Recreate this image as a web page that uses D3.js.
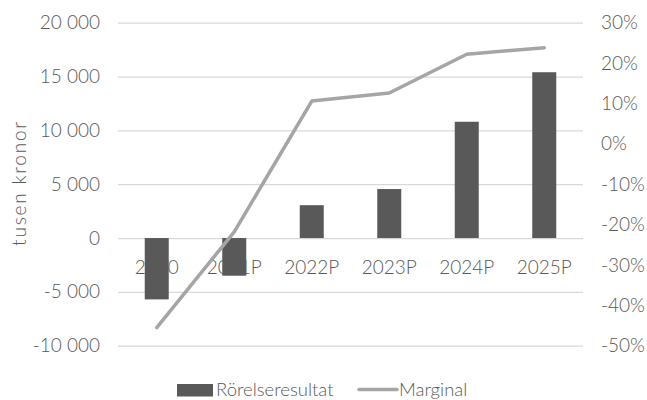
<!DOCTYPE html>
<html>
<head>
<meta charset="utf-8">
<script src="https://cdn.jsdelivr.net/npm/d3@7"></script>
<style>
  html, body { margin: 0; padding: 0; background: #fff; }
  svg { display: block; font-family: Lato, "Open Sans", sans-serif; font-weight: 300; }
</style>
</head>
<body>
<svg id="chart" width="647" height="400"></svg>
<script>
const categories = ["2020", "2021P", "2022P", "2023P", "2024P", "2025P"];
const rorelseresultat = [-5700, -3500, 3050, 4550, 10800, 15400];
const marginal = [-0.455, -0.218, 0.106, 0.126, 0.222, 0.238];
const leftTicks = [-10000, -5000, 0, 5000, 10000, 15000, 20000];
const rightTicks = [-0.5, -0.4, -0.3, -0.2, -0.1, 0, 0.1, 0.2, 0.3];
const seriesNames = ["Rörelseresultat", "Marginal"];

const W = 647, H = 400;
const plot = { left: 118, right: 583, top: 22.7, bottom: 345.7 };
const svg = d3.select("#chart");
const textColor = "#595959";
const barColor = "#595959";
const lineColor = "#a5a5a5";
const gridColor = "#d9d9d9";
const fs = 19;

const loc = d3.formatLocale({ decimal: ",", thousands: " ", grouping: [3], currency: ["", ""], minus: "-" });
const fmtNum = loc.format(",");
const fmtPct = loc.format(".0%");

const x = d3.scaleBand().domain(categories).range([plot.left, plot.right]).padding(0);
const yL = d3.scaleLinear().domain([-10000, 20000]).range([plot.bottom, plot.top]);
const yR = d3.scaleLinear().domain([-0.5, 0.3]).range([plot.bottom, plot.top]);

function styleAxis(g) {
  g.attr("font-family", null).attr("font-size", null);
  g.select(".domain").remove();
  g.selectAll(".tick text").attr("fill", textColor).style("font-size", fs + "px");
}

// gridlines + left labels
const gL = svg.append("g").attr("transform", `translate(${plot.left},0)`)
  .call(d3.axisLeft(yL).tickValues(leftTicks).tickFormat(fmtNum)
    .tickSize(-(plot.right - plot.left)).tickPadding(18));
styleAxis(gL);
gL.selectAll(".tick line").attr("stroke", gridColor).attr("stroke-width", 1.3);

// right labels
const gR = svg.append("g").attr("transform", `translate(${plot.right},0)`)
  .call(d3.axisRight(yR).tickValues(rightTicks).tickFormat(fmtPct).tickSize(0).tickPadding(18));
styleAxis(gR);

// x labels (behind bars)
const gX = svg.append("g").attr("transform", `translate(0,${yL(0)})`)
  .call(d3.axisBottom(x).tickSize(0).tickPadding(22));
styleAxis(gX);

// axis title
svg.append("text")
  .attr("transform", `translate(26,183) rotate(-90)`)
  .attr("text-anchor", "middle")
  .attr("fill", textColor)
  .style("font-size", "19px")
  .style("letter-spacing", "1.8px")
  .text("tusen kronor");

// bars
const bw = 24;
svg.append("g").selectAll("rect").data(rorelseresultat).join("rect")
  .attr("x", (d, i) => x(categories[i]) + x.bandwidth() / 2 - bw / 2)
  .attr("width", bw)
  .attr("y", d => yL(Math.max(0, d)))
  .attr("height", d => Math.abs(yL(d) - yL(0)))
  .attr("fill", barColor);

// line
const line = d3.line()
  .x((d, i) => x(categories[i]) + x.bandwidth() / 2)
  .y(d => yR(d));
svg.append("path").datum(marginal)
  .attr("d", line)
  .attr("fill", "none")
  .attr("stroke", lineColor)
  .attr("stroke-width", 3.5)
  .attr("stroke-linejoin", "round")
  .attr("stroke-linecap", "round");

// legend
const lg = svg.append("g");
lg.append("rect").attr("x", 177).attr("y", 384).attr("width", 36).attr("height", 12.5).attr("fill", barColor);
lg.append("text").attr("x", 216).attr("y", 390).attr("dy", "0.35em")
  .attr("fill", textColor).style("font-size", "18.5px").text(seriesNames[0]);
lg.append("line").attr("x1", 359).attr("x2", 397).attr("y1", 389.5).attr("y2", 389.5)
  .attr("stroke", lineColor).attr("stroke-width", 3.5).attr("stroke-linecap", "round");
lg.append("text").attr("x", 399).attr("y", 390).attr("dy", "0.35em")
  .attr("fill", textColor).style("font-size", "18.5px").text(seriesNames[1]);
</script>
</body>
</html>
